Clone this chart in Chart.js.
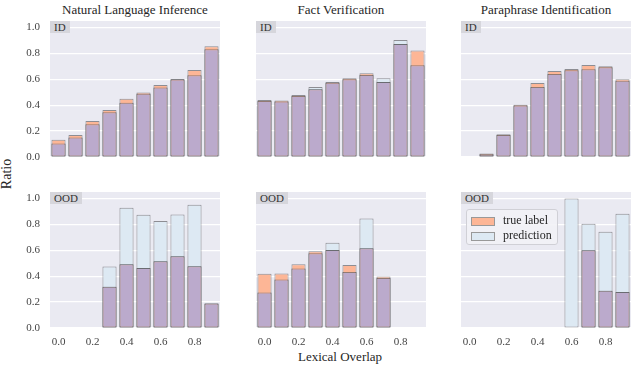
<!DOCTYPE html>
<html>
<head>
<meta charset="utf-8">
<script src="https://cdn.jsdelivr.net/npm/chart.js@4.4.0/dist/chart.umd.min.js"></script>
<style>
  body { margin: 0; background: #fff; }
  #wrap { position: relative; width: 640px; height: 368px; font-family: "Liberation Serif", "Times New Roman", serif; color: #262626; }
  canvas { position: absolute; }
  .title { position: absolute; width: 170px; text-align: center; font-size: 13px; top: 2px; }
  .tag { position: absolute; background: #d6d6dc; font-size: 11px; line-height: 12px; padding: 0 4px; color: #333; }
  .axlabel { position: absolute; font-size: 14px; }
  .legend { position: absolute; left: 466px; top: 209px; width: 90px; height: 34px; background: rgba(242,242,246,0.9); border: 1px solid #d0d0d6; border-radius: 3px; font-size: 12px; }
  .legend .row { position: absolute; left: 4px; height: 14px; line-height: 14px; }
  .legend .patch { display: inline-block; width: 22px; height: 7px; border: 1px solid #999; vertical-align: middle; margin-right: 8px; }
</style>
</head>
<body>
<div id="wrap">
  <div class="title" style="left:50px">Natural Language Inference</div>
  <div class="title" style="left:256px">Fact Verification</div>
  <div class="title" style="left:461px">Paraphrase Identification</div>
  <div class="axlabel" style="left:-8px; top:166px; transform: rotate(-90deg);">Ratio</div>
  <div class="axlabel" style="left:298px; top:349px; font-size:13px;">Lexical Overlap</div>
</div>
<script>
// bins of lexical overlap
const xLabels = ['0.0', '0.1', '0.2', '0.3', '0.4', '0.5', '0.6', '0.7', '0.8', '0.9'];

// in-distribution
const nliIdTrue = [0.133, 0.17, 0.278, 0.362, 0.45, 0.498, 0.555, 0.602, 0.672, 0.855];
const nliIdPred = [0.104, 0.15, 0.252, 0.345, 0.418, 0.488, 0.536, 0.598, 0.631, 0.831];
const fvIdTrue = [0.441, 0.436, 0.479, 0.524, 0.579, 0.608, 0.646, 0.579, 0.872, 0.823];
const fvIdPred = [0.432, 0.428, 0.47, 0.541, 0.574, 0.601, 0.634, 0.608, 0.903, 0.708];
const piIdTrue = [0, 0.027, 0.175, 0.403, 0.572, 0.664, 0.679, 0.71, 0.7, 0.6];
const piIdPred = [0, 0.021, 0.169, 0.398, 0.541, 0.641, 0.669, 0.677, 0.692, 0.588];

// out-of-distribution
const nliOodTrue = [0, 0, 0, 0.318, 0.492, 0.464, 0.515, 0.554, 0.477, 0.19];
const nliOodPred = [0, 0, 0, 0.474, 0.928, 0.874, 0.826, 0.877, 0.951, 0.19];
const fvOodTrue = [0.418, 0.421, 0.492, 0.592, 0.603, 0.487, 0.615, 0.398, 0, 0];
const fvOodPred = [0.274, 0.374, 0.459, 0.578, 0.659, 0.433, 0.846, 0.386, 0, 0];
const piOodTrue = [0, 0, 0, 0, 0, 0, 0, 0.6, 0.287, 0.277];
const piOodPred = [0, 0, 0, 0, 0, 0, 1.0, 0.805, 0.744, 0.882];

const panels = [
  { t: nliIdTrue, p: nliIdPred, col: 0, row: 0, tag: 'ID' },
  { t: fvIdTrue, p: fvIdPred, col: 1, row: 0, tag: 'ID' },
  { t: piIdTrue, p: piIdPred, col: 2, row: 0, tag: 'ID' },
  { t: nliOodTrue, p: nliOodPred, col: 0, row: 1, tag: 'OOD' },
  { t: fvOodTrue, p: fvOodPred, col: 1, row: 1, tag: 'OOD' },
  { t: piOodTrue, p: piOodPred, col: 2, row: 1, tag: 'OOD' }
];

const colLeft = [50, 256, 461];
const rowTop = [21, 192];
const plotW = 170, plotH = 136;
const padL = 40, padT = 6, padR = 6, padB = 26;

const bgPlugin = {
  id: 'bg',
  beforeDraw(chart) {
    const a = chart.chartArea;
    const ctx = chart.ctx;
    ctx.save();
    ctx.fillStyle = '#eaeaf2';
    ctx.fillRect(a.left, a.top, a.right - a.left, a.bottom - a.top);
    ctx.restore();
  }
};

const wrap = document.getElementById('wrap');
const edge = 'rgba(90,90,95,0.65)';

panels.forEach(pn => {
  const cv = document.createElement('canvas');
  cv.width = padL + plotW + padR;
  cv.height = padT + plotH + padB;
  cv.style.left = (colLeft[pn.col] - padL) + 'px';
  cv.style.top = (rowTop[pn.row] - padT) + 'px';
  wrap.appendChild(cv);

  const tag = document.createElement('div');
  tag.className = 'tag';
  tag.textContent = pn.tag;
  tag.style.left = colLeft[pn.col] + 'px';
  tag.style.top = rowTop[pn.row] + 'px';
  wrap.appendChild(tag);

  const nz = arr => arr.map(v => v > 0 ? v : null);
  const both = pn.t.map((v, i) => Math.min(v, pn.p[i]));

  new Chart(cv, {
    type: 'bar',
    data: {
      labels: xLabels,
      datasets: [
        { label: 'overlap', data: nz(both), backgroundColor: '#bbaacc' },
        { label: 'true label', data: nz(pn.t), backgroundColor: '#fdb696' },
        { label: 'prediction', data: nz(pn.p), backgroundColor: '#dde9f3' }
      ]
    },
    options: {
      responsive: false,
      animation: false,
      devicePixelRatio: 1,
      layout: { padding: { left: 0, top: padT, right: padR, bottom: 0 } },
      datasets: {
        bar: {
          grouped: false,
          barPercentage: 0.83,
          categoryPercentage: 1.0,
          borderColor: edge,
          borderWidth: 1,
          borderSkipped: false
        }
      },
      plugins: { legend: { display: false }, tooltip: { enabled: false } },
      scales: {
        x: {
          grid: { display: false, drawTicks: false },
          border: { display: false },
          afterFit(s) { s.height = padB; s.paddingLeft = 0; s.paddingRight = 0; },
          ticks: {
            display: pn.row === 1,
            autoSkip: false,
            maxRotation: 0,
            padding: 8,
            color: '#444',
            font: { family: 'Liberation Serif', size: 11 },
            callback: (v, i) => i % 2 === 0 ? xLabels[i] : ''
          }
        },
        y: {
          min: 0,
          max: 1.05,
          afterFit(s) { s.width = padL; s.paddingTop = 0; s.paddingBottom = 0; },
          grid: { color: '#ffffff', lineWidth: 1.2, drawTicks: false },
          border: { display: false },
          ticks: {
            display: pn.col === 0,
            stepSize: 0.2,
            includeBounds: false,
            padding: 10,
            color: '#444',
            font: { family: 'Liberation Serif', size: 11 },
            callback: v => v.toFixed(1)
          }
        }
      }
    },
    plugins: [bgPlugin]
  });
});

// legend in the last panel
const lg = document.createElement('div');
lg.className = 'legend';
lg.innerHTML =
  '<div class="row" style="top:3px"><span class="patch" style="background:#fdb696"></span>true label</div>' +
  '<div class="row" style="top:18px"><span class="patch" style="background:#dde9f3"></span>prediction</div>';
wrap.appendChild(lg);
</script>
</body>
</html>
